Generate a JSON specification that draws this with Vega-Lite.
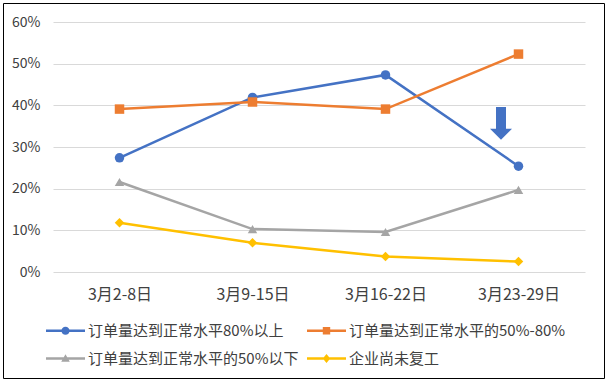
{
  "$schema": "https://vega.github.io/schema/vega-lite/v6.json",
  "width": 601,
  "height": 375,
  "autosize": "none",
  "padding": {"left": 3, "top": 3, "right": 6, "bottom": 7},
  "background": "white",
  "config": {
    "view": {"stroke": "#000000", "strokeWidth": 1},
    "font": "Noto Sans CJK SC"
  },
  "resolve": {
    "scale": {"shape": "independent"},
    "legend": {"color": "independent", "shape": "independent"}
  },
  "datasets": {
    "series": [
      {"period": "3月2-8日", "series": "订单量达到正常水平80%以上", "value": 0.274},
      {"period": "3月9-15日", "series": "订单量达到正常水平80%以上", "value": 0.419},
      {"period": "3月16-22日", "series": "订单量达到正常水平80%以上", "value": 0.473},
      {"period": "3月23-29日", "series": "订单量达到正常水平80%以上", "value": 0.254},
      {"period": "3月2-8日", "series": "订单量达到正常水平的50%-80%", "value": 0.391},
      {"period": "3月9-15日", "series": "订单量达到正常水平的50%-80%", "value": 0.408},
      {"period": "3月16-22日", "series": "订单量达到正常水平的50%-80%", "value": 0.391},
      {"period": "3月23-29日", "series": "订单量达到正常水平的50%-80%", "value": 0.523},
      {"period": "3月2-8日", "series": "订单量达到正常水平的50%以下", "value": 0.216},
      {"period": "3月9-15日", "series": "订单量达到正常水平的50%以下", "value": 0.103},
      {"period": "3月16-22日", "series": "订单量达到正常水平的50%以下", "value": 0.096},
      {"period": "3月23-29日", "series": "订单量达到正常水平的50%以下", "value": 0.197},
      {"period": "3月2-8日", "series": "企业尚未复工", "value": 0.118},
      {"period": "3月9-15日", "series": "企业尚未复工", "value": 0.070},
      {"period": "3月16-22日", "series": "企业尚未复工", "value": 0.037},
      {"period": "3月23-29日", "series": "企业尚未复工", "value": 0.025}
    ],
    "arrow": [
      {"period": "3月23-29日", "top": 0.396, "bottom": 0.341, "head": 0.3305}
    ]
  },
  "encoding": {
    "x": {
      "field": "period",
      "type": "ordinal",
      "sort": ["3月2-8日", "3月9-15日", "3月16-22日", "3月23-29日"],
      "scale": {"type": "point", "range": [50, 582], "padding": 0.5},
      "axis": {
        "title": null,
        "offset": -106,
        "domain": false,
        "ticks": false,
        "tickSize": 0,
        "grid": false,
        "labelAngle": 0,
        "labelPadding": 14,
        "labelFont": "Noto Sans CJK SC",
        "labelFontSize": 16,
        "labelColor": "#404040"
      }
    }
  },
  "layer": [
    {
      "data": {"name": "series"},
      "mark": {"type": "line", "strokeWidth": 2.5},
      "encoding": {
        "y": {
          "field": "value",
          "type": "quantitative",
          "scale": {"domain": [0, 0.6], "range": [269, 19], "nice": false, "zero": true},
          "axis": {
            "title": null,
            "offset": -40,
            "values": [0, 0.1, 0.2, 0.3, 0.4, 0.5, 0.6],
            "format": ".0%",
            "domain": false,
            "ticks": false,
            "tickSize": 0,
            "labelPadding": 3,
            "labelFont": "Noto Sans CJK SC",
            "labelFontSize": 14,
            "labelColor": "#404040",
            "grid": true,
            "gridColor": "#D9D9D9",
            "gridWidth": 1
          }
        },
        "color": {
          "field": "series",
          "type": "nominal",
          "scale": {
            "domain": ["订单量达到正常水平80%以上", "订单量达到正常水平的50%-80%", "订单量达到正常水平的50%以下", "企业尚未复工"],
            "range": ["#4472C4", "#ED7D31", "#A5A5A5", "#FFC000"]
          },
          "legend": null
        }
      }
    },
    {
      "data": {"name": "series"},
      "mark": {"type": "point", "filled": true, "opacity": 1, "size": 90},
      "encoding": {
        "y": {"field": "value", "type": "quantitative"},
        "color": {
          "field": "series",
          "type": "nominal",
          "legend": null
        },
        "shape": {
          "field": "series",
          "type": "nominal",
          "scale": {
            "domain": ["订单量达到正常水平80%以上", "订单量达到正常水平的50%-80%", "订单量达到正常水平的50%以下", "企业尚未复工"],
            "range": ["circle", "square", "triangle-up", "diamond"]
          },
          "legend": null
        }
      }
    },
    {
      "data": {"name": "series"},
      "mark": {"type": "point", "filled": true, "opacity": 0, "size": 1521},
      "encoding": {
        "y": {"field": "value", "type": "quantitative"},
        "color": {
          "field": "series",
          "type": "nominal",
          "legend": {
            "title": null,
            "orient": "none",
            "legendX": 43,
            "legendY": 308,
            "direction": "horizontal",
            "columns": 2,
            "columnPadding": 8,
            "rowPadding": -1,
            "padding": 0,
            "offset": 0,
            "symbolSize": 1521,
            "symbolStrokeWidth": 0,
            "symbolOpacity": 1,
            "labelOffset": 3,
            "labelFont": "Noto Sans CJK SC",
            "labelFontSize": 15,
            "labelColor": "#404040",
            "labelLimit": 400
          }
        },
        "shape": {
          "field": "series",
          "type": "nominal",
          "scale": {
            "domain": ["订单量达到正常水平80%以上", "订单量达到正常水平的50%-80%", "订单量达到正常水平的50%以下", "企业尚未复工"],
            "range": [
              "M-1,-0.07H1V0.07H-1Z M-0.21,0A0.21,0.21 0 1,1 0.21,0A0.21,0.21 0 1,1 -0.21,0Z",
              "M-1,-0.07H1V0.07H-1Z M-0.19,-0.19H0.19V0.19H-0.19Z",
              "M-1,-0.07H1V0.07H-1Z M0,-0.22L0.22,0.17H-0.22Z",
              "M-1,-0.07H1V0.07H-1Z M0,-0.23L0.19,0L0,0.23L-0.19,0Z"
            ]
          },
          "legend": {
            "title": null,
            "orient": "none",
            "legendX": 43,
            "legendY": 308,
            "direction": "horizontal",
            "columns": 2,
            "columnPadding": 8,
            "rowPadding": -1,
            "padding": 0,
            "offset": 0,
            "symbolSize": 1521,
            "symbolStrokeWidth": 0,
            "symbolOpacity": 1,
            "labelOffset": 3,
            "labelFont": "Noto Sans CJK SC",
            "labelFontSize": 15,
            "labelColor": "#404040",
            "labelLimit": 400
          }
        }
      }
    },
    {
      "data": {"name": "arrow"},
      "mark": {"type": "bar", "width": 10, "xOffset": -17.5, "color": "#4472C4"},
      "encoding": {
        "y": {"field": "top", "type": "quantitative"},
        "y2": {"field": "bottom"}
      }
    },
    {
      "data": {"name": "arrow"},
      "mark": {"type": "point", "filled": true, "opacity": 1, "size": 484, "shape": "M-1,-0.5H1L0,0.5Z", "xOffset": -17.5, "color": "#4472C4"},
      "encoding": {
        "y": {"field": "head", "type": "quantitative"}
      }
    }
  ]
}
